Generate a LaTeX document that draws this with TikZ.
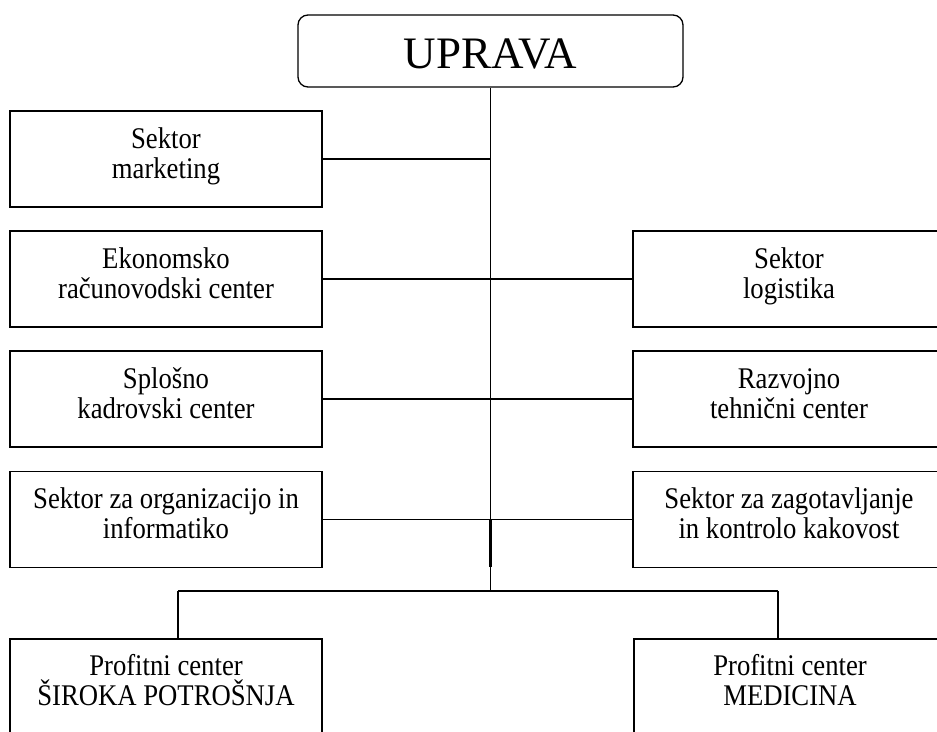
\documentclass[tikz,border=0pt]{standalone}
\usepackage{fontspec}
\setmainfont{Liberation Serif}
\newfontfamily\condserif[FakeStretch=0.89]{Liberation Serif}
\newcommand\twol[2]{\vtop{\halign{\hfil##\hfil\cr#1\cr#2\cr}}}
\begin{document}
\begin{tikzpicture}[x=1pt,y=-1pt,
  box/.style={draw, line width=1.3pt, minimum width=312pt, minimum height=96pt,
    inner sep=0pt, text height=20pt, text depth=42pt,
    font=\condserif\fontsize{30}{30}\selectfont},
  head/.style={draw, line width=1.3pt, rounded corners=10pt, minimum width=385pt,
    minimum height=72pt, inner sep=0pt, text height=34pt, text depth=0pt,
    font=\fontsize{45}{50}\selectfont},
  conn/.style={line width=1.3pt},
  thick trunk/.style={line width=2.8pt}]
\clip (0,0) rectangle (937,731);
\fill[white] (0,0) rectangle (937,731);
\node[head] (up) at (490.5,51) {UPRAVA};
% left column
\node[box] (l1) at (166,159) {\twol{Sektor}{marketing}};
\node[box] (l2) at (166,279) {\twol{Ekonomsko}{računovodski center}};
\node[box] (l3) at (166,399) {\twol{Splošno}{kadrovski center}};
\node[box] (l4) at (166,519.5) {\twol{Sektor za organizacijo in}{informatiko}};
% right column
\node[box] (r2) at (789,279) {\twol{Sektor}{logistika}};
\node[box] (r3) at (789,399) {\twol{Razvojno}{tehnični center}};
\node[box] (r4) at (789,519.5) {\twol{Sektor za zagotavljanje}{in kontrolo kakovost}};
% bottom
\node[box, minimum height=97pt, text depth=45pt] (p1) at (166,687.5) {\twol{Profitni center}{ŠIROKA POTROŠNJA}};
\node[box, minimum height=97pt, text depth=45pt] (p2) at (790,687.5) {\twol{Profitni center}{MEDICINA}};
% trunk and junctions
\coordinate (j) at (490.5,591);
\coordinate (d1) at (178,591);
\coordinate (d2) at (778,591);
\coordinate (t1) at (490.5,519.5);
\coordinate (t2) at (490.5,567);
\draw[conn] (up.south) -- (j);
\draw[thick trunk] (t1) -- (t2);
\draw[conn] (l1.east) -- (l1.east -| up.south);
\draw[conn] (l2.east) -- (r2.west);
\draw[conn] (l3.east) -- (r3.west);
\draw[conn] (l4.east) -- (r4.west);
\draw[conn] (d1) -- (d2);
\draw[conn] (d1) -- (d1 |- p1.north);
\draw[conn] (d2) -- (d2 |- p2.north);
\end{tikzpicture}
\end{document}
